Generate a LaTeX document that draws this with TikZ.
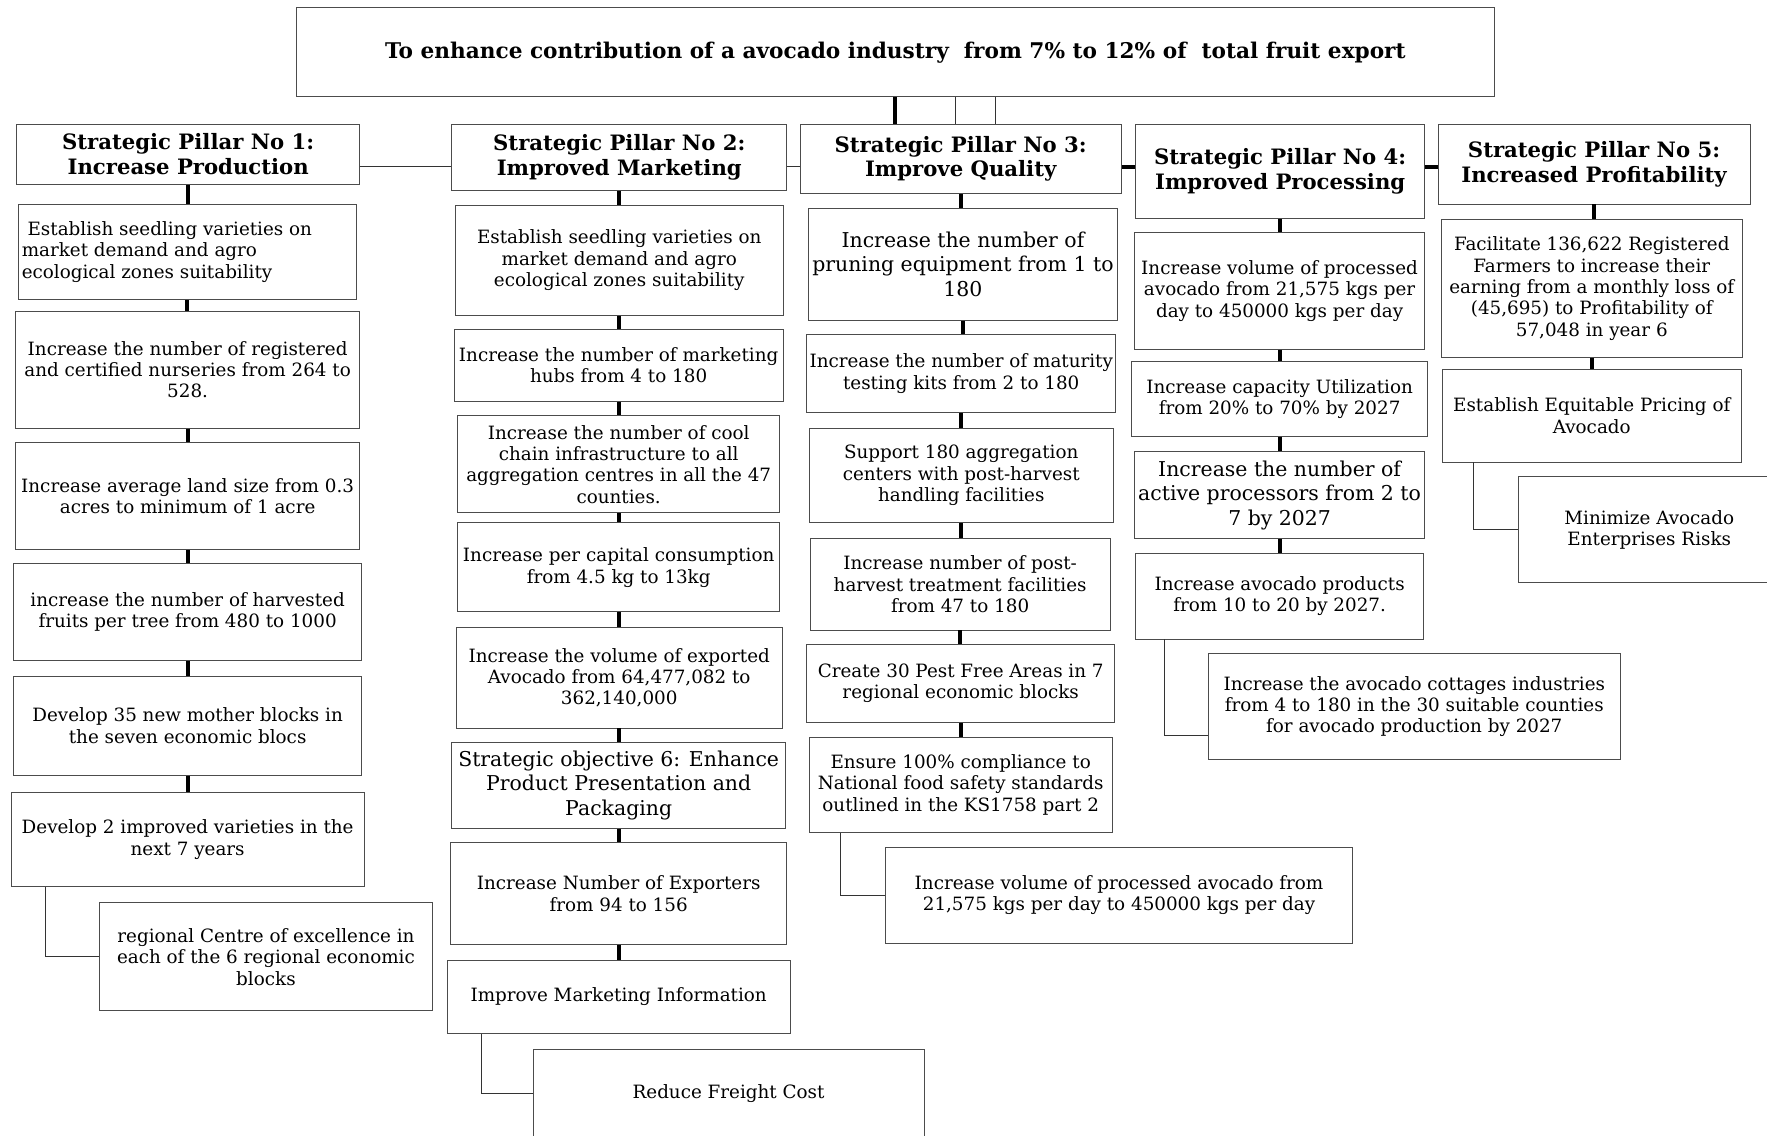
\documentclass[tikz,border=0pt]{standalone}
\usepackage{fontspec}
\setmainfont{DejaVu Serif}
\usetikzlibrary{fit}
\usetikzlibrary{calc}
\newcommand{\bodyfont}{\fontsize{12.2}{14.25}\selectfont}
\newcommand{\largerfont}{\fontsize{13.6}{16.2}\selectfont}
\newcommand{\pillarfont}{\bfseries\fontsize{14.1}{16.5}\selectfont}
\newcommand{\goalfont}{\bfseries\fontsize{14.4}{16}\selectfont}
\tikzset{
  item/.style={draw=black!70, line width=0.6pt, inner sep=0pt},
  % box text
  lbl/.style={align=center, inner sep=0pt},
  btext/.style={label={[lbl, font=\bodyfont]center:{#1}}},
  ltext/.style={label={[lbl, font=\largerfont]center:{#1}}},
  ptext/.style={label={[lbl, font=\pillarfont]center:{#1}}},
  gtext/.style={label={[lbl, font=\goalfont]center:{#1}}},
  bar/.style={line width=2.8pt},
  link/.style={line width=0.7pt, black!80},
}

\begin{document}
\begin{tikzpicture}[x=0.75pt, y=-0.75pt]
  \useasboundingbox (0,0) rectangle (1568,1008);
  \coordinate (rail) at (0,148);
  % goal and pillars
  \node[item, fit={(263,7) (1326,86)}, gtext={To enhance contribution of a avocado industry\ \ from 7\% to 12\% of\ \ total fruit export}] (goal) {};
  \node[item, fit={(15,110) (319,164)}, ptext={Strategic Pillar No 1:\\Increase Production}] (p1) {};
  \node[item, fit={(401,110) (698,169)}, ptext={Strategic Pillar No 2:\\Improved Marketing}] (p2) {};
  \node[item, fit={(710,110) (995,172)}, ptext={Strategic Pillar No 3:\\Improve Quality}] (p3) {};
  \node[item, fit={(1008,110) (1264,194)}, ptext={Strategic Pillar No 4:\\Improved Processing}] (p4) {};
  \node[item, fit={(1276,110) (1553,181)}, ptext={Strategic Pillar No 5:\\Increased Profitability}] (p5) {};

  % pillar 1
  \node[item, fit={(16,181) (316,266)}, label={[lbl, align=left, font=\bodyfont]center:{\makebox[220pt][l]{\ Establish seedling varieties on}\\market demand and agro\\ecological zones suitability}}] (c1a) {};
  \node[item, fit={(14,276) (319,380)}, btext={Increase the number of registered\\and certified nurseries from 264 to\\528.}] (c1b) {};
  \node[item, fit={(14,393) (319,488)}, btext={Increase average land size from 0.3\\acres to minimum of 1 acre}] (c1c) {};
  \node[item, fit={(12,500) (321,586)}, btext={increase the number of harvested\\fruits per tree from 480 to 1000}] (c1d) {};
  \node[item, fit={(12,600) (321,688)}, btext={Develop 35 new mother blocks in\\the seven economic blocs}] (c1e) {};
  \node[item, fit={(10,703) (323,787)}, btext={Develop 2 improved varieties in the\\next 7 years}] (c1f) {};
  \node[item, fit={(88,801) (384,897)}, btext={regional Centre of excellence in\\each of the 6 regional economic\\blocks}] (c1g) {};

  % pillar 2
  \node[item, fit={(404,182) (695,280)}, btext={Establish seedling varieties on\\market demand and agro\\ecological zones suitability}] (c2a) {};
  \node[item, fit={(403,292) (695,356)}, btext={Increase the number of marketing\\hubs from 4 to 180}] (c2b) {};
  \node[item, fit={(406,369) (692,455)}, btext={Increase the number of cool\\chain infrastructure to all\\aggregation centres in all the 47\\counties.}] (c2c) {};
  \node[item, fit={(406,464) (692,543)}, btext={Increase per capital consumption\\from 4.5 kg to 13kg}] (c2d) {};
  \node[item, fit={(405,557) (694,646)}, btext={Increase the volume of exported\\Avocado from 64,477,082 to\\362,140,000}] (c2e) {};
  \node[item, fit={(401,659) (697,735)}, ltext={Strategic objective 6: Enhance\\Product Presentation and\\Packaging}] (c2f) {};
  \node[item, fit={(400,748) (698,838)}, btext={Increase Number of Exporters\\from 94 to 156}] (c2g) {};
  \node[item, fit={(397,852) (701,917)}, btext={Improve Marketing Information}] (c2h) {};
  \node[item, fit={(473,931) (820,1010)}, btext={Reduce Freight Cost}] (c2i) {};

  % pillar 3
  \node[item, fit={(717,185) (992,284)}, ltext={Increase the number of\\pruning equipment from 1 to\\180}] (c3a) {};
  \node[item, fit={(716,297) (990,366)}, btext={Increase the number of maturity\\testing kits from 2 to 180}] (c3b) {};
  \node[item, fit={(718,380) (988,464)}, btext={Support 180 aggregation\\centers with post-harvest\\handling facilities}] (c3c) {};
  \node[item, fit={(719,478) (985,559)}, btext={Increase number of post-\\harvest treatment facilities\\from 47 to 180}] (c3d) {};
  \node[item, fit={(716,572) (989,641)}, btext={Create 30 Pest Free Areas in 7\\regional economic blocks}] (c3e) {};
  \node[item, fit={(718,654) (987,739)}, btext={Ensure 100\% compliance to\\National food safety standards\\outlined in the KS1758 part 2}] (c3f) {};
  \node[item, fit={(786,752) (1200,837)}, btext={Increase volume of processed avocado from\\21,575 kgs per day to 450000 kgs per day}] (c3g) {};

  % pillar 4
  \node[item, fit={(1007,206) (1264,310)}, btext={Increase volume of processed\\avocado from 21,575 kgs per\\day to 450000 kgs per day}] (c4a) {};
  \node[item, fit={(1004,321) (1267,387)}, btext={Increase capacity Utilization\\from 20\% to 70\% by 2027}] (c4b) {};
  \node[item, fit={(1007,401) (1264,478)}, ltext={Increase the number of\\active processors from 2 to\\7 by 2027}] (c4c) {};
  \node[item, fit={(1008,491) (1263,567)}, btext={Increase avocado products\\from 10 to 20 by 2027.}] (c4d) {};
  \node[item, fit={(1072,580) (1438,674)}, btext={Increase the avocado cottages industries\\from 4 to 180 in the 30 suitable counties\\for avocado production by 2027}] (c4e) {};

  % pillar 5
  \node[item, fit={(1279,195) (1546,317)}, btext={Facilitate 136,622 Registered\\Farmers to increase their\\earning from a monthly loss of\\(45,695) to Profitability of\\57,048 in year 6}] (c5a) {};
  \node[item, fit={(1280,328) (1545,410)}, btext={Establish Equitable Pricing of\\Avocado}] (c5b) {};
  \node[item, fit={(1347,423) (1580,517)}, btext={Minimize Avocado\\Enterprises Risks}] (c5c) {};

  % goal to pillars
  \draw[bar] (goal.south) -- (goal.south |- p3.north);
  \coordinate (g1) at ($(goal.south)+(53,0)$);
  \coordinate (g2) at ($(goal.south)+(89,0)$);
  \draw[link] (g1) -- (g1 |- p3.north);
  \draw[link] (g2) -- (g2 |- p3.north);
  \draw[link] (p1.east |- rail) -- (p2.west |- rail);
  \draw[link] (p2.east |- rail) -- (p3.west |- rail);
  \draw[bar] (p3.east |- rail) -- (p4.west |- rail);
  \draw[bar] (p4.east |- rail) -- (p5.west |- rail);

  % columns
  \foreach \a/\b in {p1/c1a, c1a/c1b, c1b/c1c, c1c/c1d, c1d/c1e, c1e/c1f,
                     p2/c2a, c2a/c2b, c2b/c2c, c2c/c2d, c2d/c2e, c2e/c2f, c2f/c2g, c2g/c2h,
                     p3/c3a, c3a/c3b, c3b/c3c, c3c/c3d, c3d/c3e, c3e/c3f,
                     p4/c4a, c4a/c4b, c4b/c4c, c4c/c4d,
                     p5/c5a, c5a/c5b}
    \draw[bar] (\a.south) -- (\a.south |- \b.north);

  % side branches
  \draw[link] ($(c1f.south west)+(31,0)$) |- (c1g.west);
  \draw[link] ($(c2h.south west)+(31,0)$) |- (c2i.west);
  \draw[link] ($(c3f.south west)+(28,0)$) |- (c3g.west);
  \draw[link] ($(c4d.south west)+(26,0)$) |- ($(c4e.south west)+(0,-22)$);
  \draw[link] ($(c5b.south west)+(28,0)$) |- (c5c.west);
\end{tikzpicture}
\end{document}
